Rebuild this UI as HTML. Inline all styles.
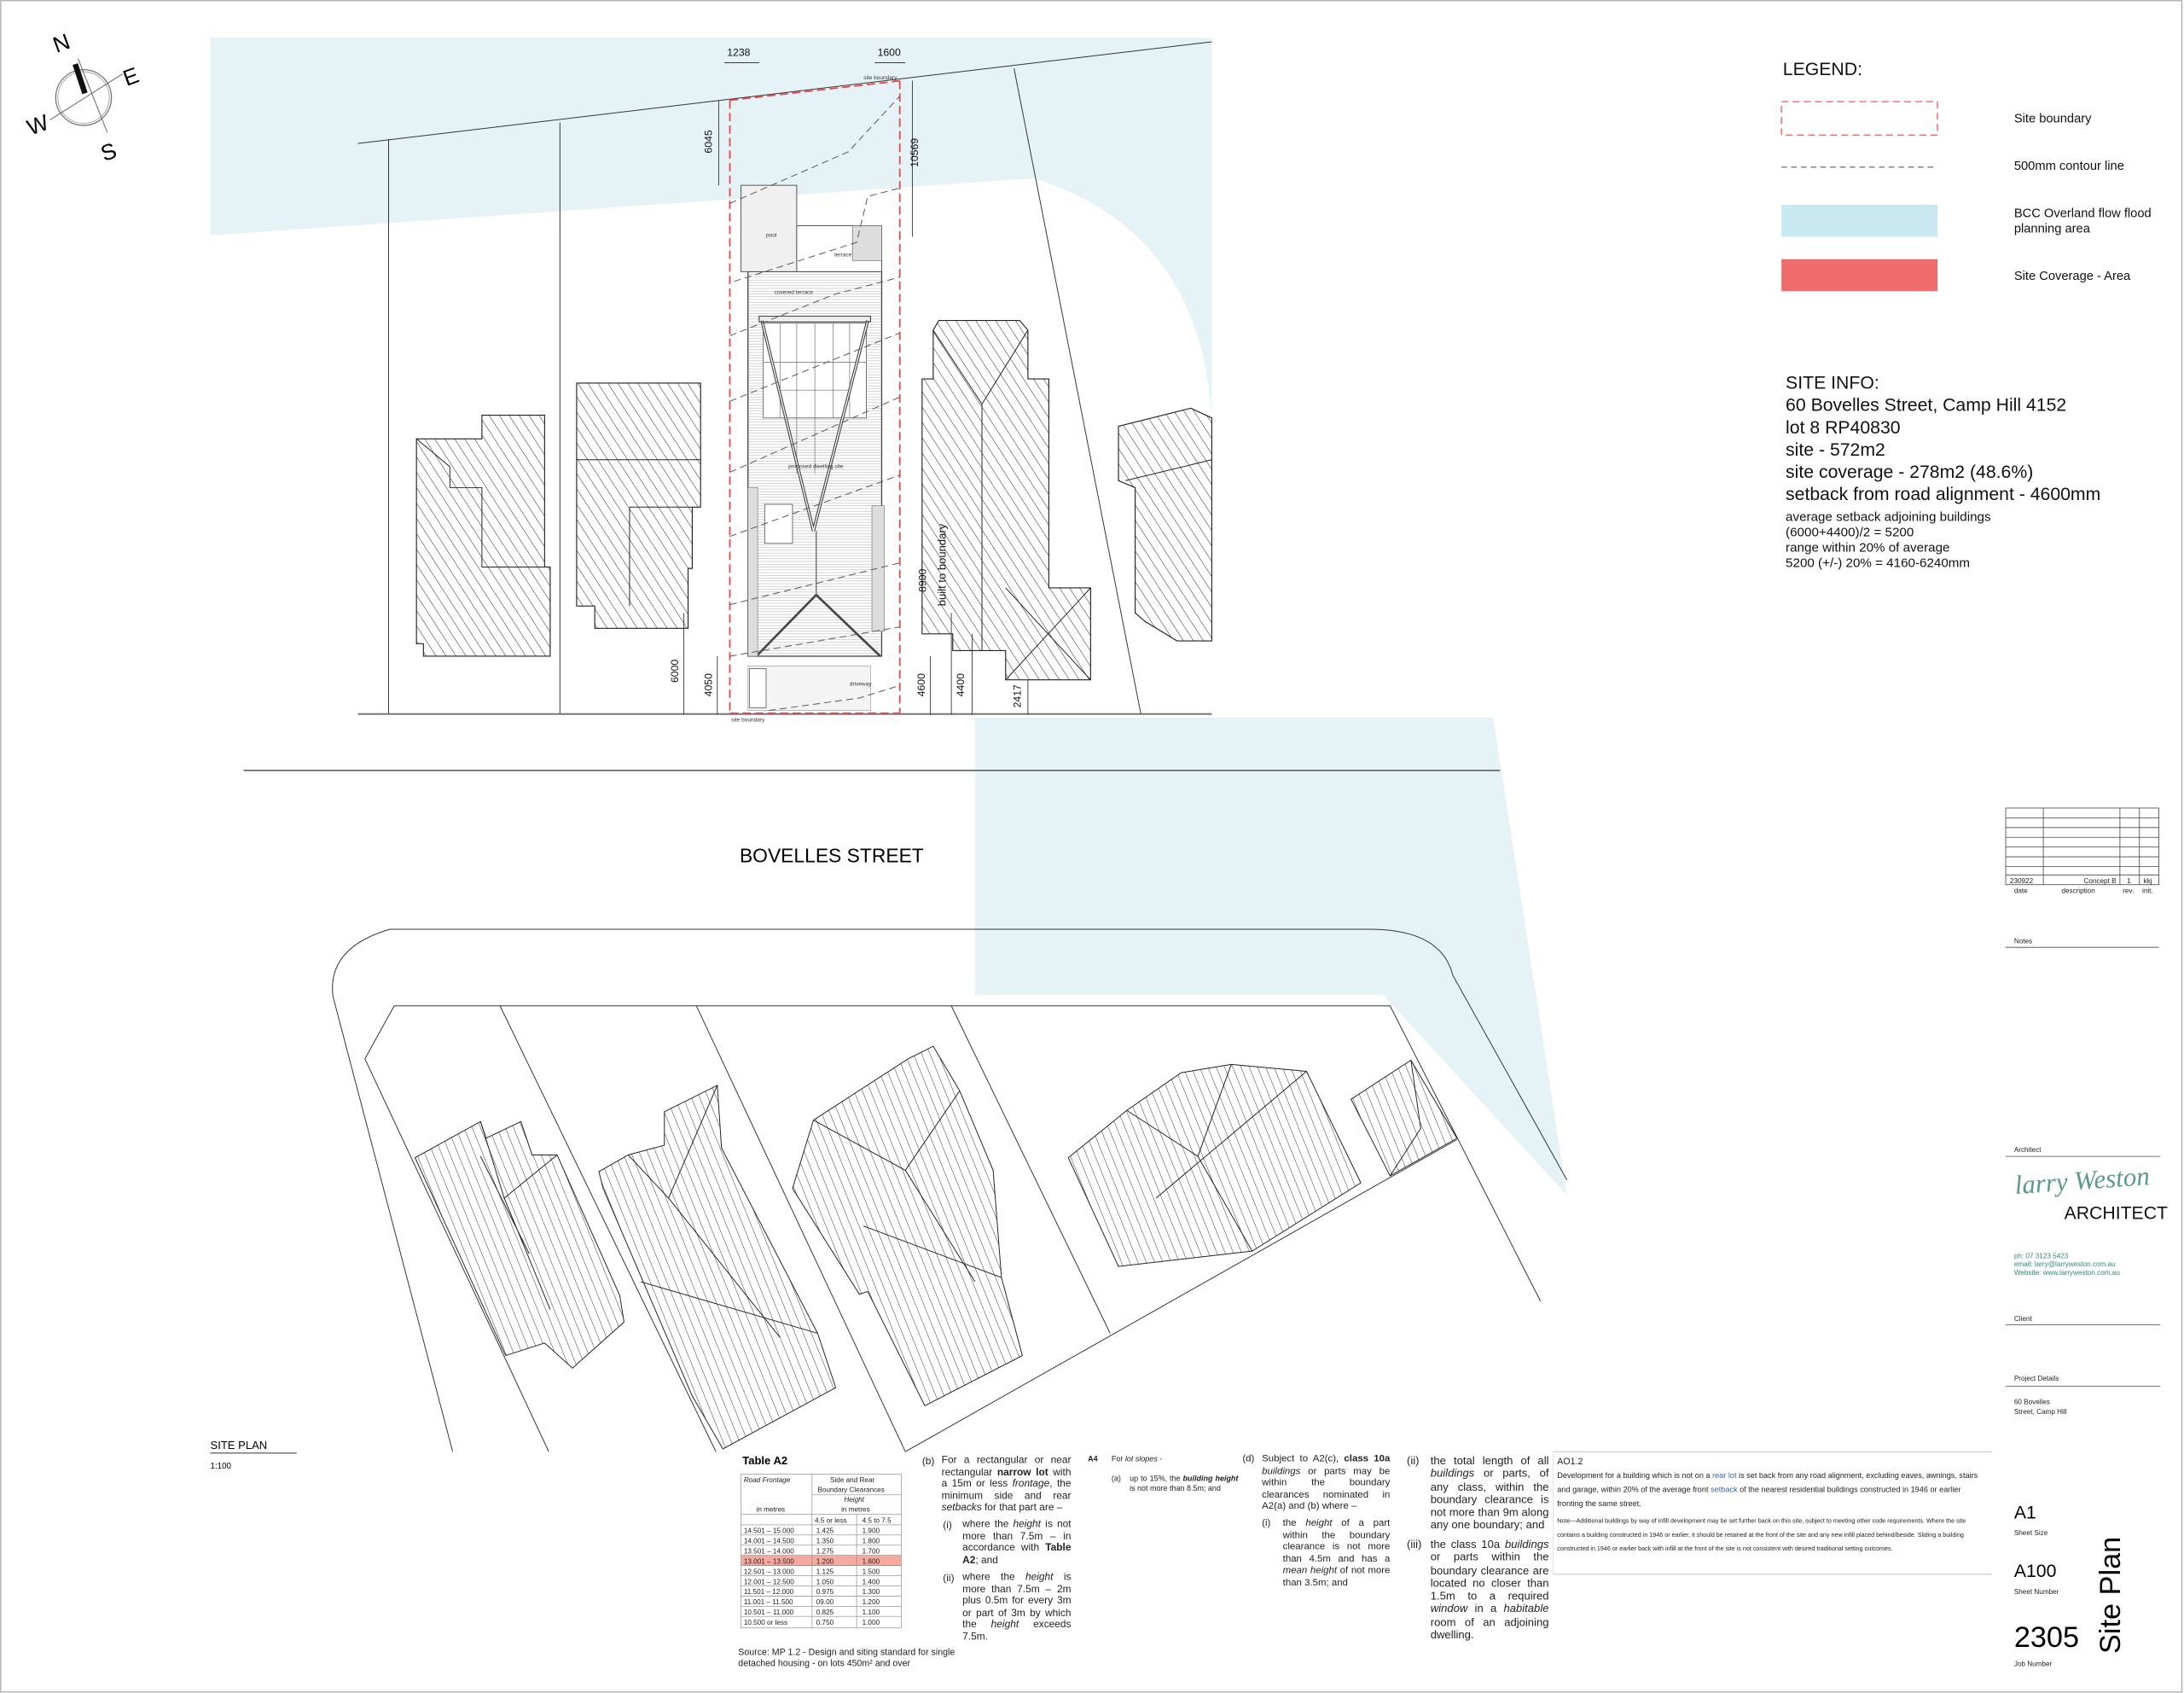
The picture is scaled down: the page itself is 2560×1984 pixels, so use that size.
<!DOCTYPE html>
<html><head><meta charset="utf-8">
<style>
html,body{margin:0;padding:0;background:#fff;}
body{width:2560px;height:1984px;overflow:hidden;position:relative;}
#root{position:absolute;left:0;top:0;width:1568px;height:1215px;transform:scale(1.632653);transform-origin:0 0;font-family:"Liberation Sans",sans-serif;color:#111;}
svg{position:absolute;left:0;top:0;}
.t{position:absolute;white-space:nowrap;}
.p{position:absolute;text-align:justify;font-family:"Liberation Sans Narrow","Liberation Sans",sans-serif;color:#222;}
.lab{position:absolute;font-size:5px;color:#333;}
</style></head><body><div id="root">
<svg width="1568" height="1215" viewBox="0 0 1568 1215">
<defs>
<pattern id="h" width="6" height="6" patternUnits="userSpaceOnUse" patternTransform="rotate(-33)"><line x1="0" y1="0" x2="0" y2="6" stroke="#222" stroke-width="0.6"/></pattern>
<pattern id="h2" width="5.5" height="5.5" patternUnits="userSpaceOnUse" patternTransform="rotate(-22)"><line x1="0" y1="0" x2="0" y2="5.5" stroke="#222" stroke-width="0.55"/></pattern>
<pattern id="dk" width="4" height="2" patternUnits="userSpaceOnUse"><line x1="0" y1="1" x2="4" y2="1" stroke="#bbb" stroke-width="0.4"/></pattern>
</defs>
<rect x="0.5" y="0.5" width="1566" height="1214" fill="none" stroke="#aaa" stroke-width="0.8"/>
<!-- flood areas -->
<path d="M151,27 L870,27 L870,300 C866,240 845,160 742,128 L151,169 Z" fill="#e6f3f6"/>
<path d="M700,517 Q695,515 700,515 L1072,515 L1125,858 L993,714 L700,714 Z" fill="#e6f3f6"/>
<!-- compass -->
<circle cx="60" cy="70" r="20" fill="none" stroke="#777" stroke-width="0.8"/>
<circle cx="60" cy="70" r="18.5" fill="none" stroke="#999" stroke-width="0.5"/>
<line x1="56" y1="42" x2="77" y2="95" stroke="#666" stroke-width="0.6"/>
<line x1="88" y1="53" x2="36" y2="86" stroke="#666" stroke-width="0.6"/>
<line x1="54" y1="46" x2="61" y2="67" stroke="#111" stroke-width="4"/>
<text x="38" y="36" font-size="16" transform="rotate(-20 45 30)">N</text>
<text x="88" y="60" font-size="16" transform="rotate(-20 95 53)">E</text>
<text x="19" y="95" font-size="16" transform="rotate(-20 27 88)">W</text>
<text x="72" y="114" font-size="16" transform="rotate(-20 79 107)">S</text>
<!-- top plan lines -->
<g stroke="#333" stroke-width="0.6" fill="none">
<line x1="257" y1="103" x2="870" y2="30"/>
<line x1="257" y1="512.5" x2="870" y2="512.5" stroke="#777" stroke-width="1.2"/>
<line x1="279" y1="100" x2="279" y2="512"/>
<line x1="402" y1="88" x2="402" y2="512"/>
<line x1="728" y1="49" x2="819" y2="512"/>
<line x1="175" y1="553" x2="1077" y2="553" stroke-width="0.8"/>
</g>
<!-- neighbour buildings top -->
<g fill="url(#h)" stroke="#222" stroke-width="0.7">
<path d="M299,315 L346,315 L346,298 L391,298 L391,407 L395,407 L395,471 L304,471 L304,462 L299,462 Z"/>
<path d="M414,275 L503,275 L503,364 L497,364 L497,408 L494,408 L494,451 L427,451 L427,435 L414,435 Z"/>
<path d="M662,272 L670,272 L670,237 L674,230 L732,230 L738,237 L738,272 L753,272 L753,422 L783,422 L783,488 L722,488 L722,467 L684,467 L684,455 L662,455 Z"/>
<path d="M803,306 L855,293 L870,300 L870,460 L845,460 L822,446 L815,440 L815,350 L803,345 Z"/>
</g>
<g stroke="#222" stroke-width="0.6" fill="none">
<path d="M299,315 L323,335 L323,350 L346,350 L346,407 L395,407"/>
<path d="M414,330 L503,330 M452,364 L497,364 M452,364 L452,435"/>
<path d="M670,237 L705,290 L738,237 M705,290 L705,467 M722,422 L783,488 M783,422 L722,488"/>
<path d="M808,345 L870,330"/>
</g>
<!-- dwelling -->
<rect x="537" y="195" width="96" height="276" fill="url(#dk)" stroke="#444" stroke-width="0.8"/>
<rect x="532" y="133" width="40" height="62" fill="#f0f0f0" stroke="#555" stroke-width="0.6"/>
<rect x="572" y="162" width="61" height="33" fill="#fff" stroke="#555" stroke-width="0.6"/>
<rect x="612" y="162" width="21" height="25" fill="#ddd" stroke="#666" stroke-width="0.4"/>
<rect x="548" y="232" width="74" height="68" fill="#fff" stroke="#555" stroke-width="0.5"/>
<g stroke="#666" stroke-width="0.4"><line x1="560" y1="232" x2="560" y2="300"/><line x1="572" y1="232" x2="572" y2="340"/><line x1="585" y1="232" x2="585" y2="340"/><line x1="598" y1="232" x2="598" y2="300"/><line x1="610" y1="232" x2="610" y2="300"/><line x1="548" y1="260" x2="622" y2="260"/><line x1="560" y1="280" x2="610" y2="280"/></g>
<path d="M547,230 L584,381 L623,230" fill="none" stroke="#444" stroke-width="2.2"/>
<path d="M547,230 L584,381 L623,230" fill="none" stroke="#fff" stroke-width="0.8"/>
<rect x="545" y="227" width="80" height="4" fill="none" stroke="#444" stroke-width="0.7"/>
<path d="M543,471 L586,427 L632,471" fill="none" stroke="#444" stroke-width="1.6"/>
<line x1="586" y1="381" x2="586" y2="427" stroke="#666" stroke-width="0.8"/>
<rect x="549" y="362" width="20" height="28" fill="#fff" stroke="#555" stroke-width="0.5"/>
<rect x="626" y="363" width="9" height="90" fill="#ddd" stroke="#777" stroke-width="0.4"/>
<rect x="537" y="350" width="7" height="121" fill="#ddd" stroke="#777" stroke-width="0.4"/>
<rect x="537" y="478" width="88" height="32" fill="#f4f4f4" stroke="#999" stroke-width="0.4"/>
<rect x="538" y="480" width="12" height="28" fill="#fff" stroke="#555" stroke-width="0.5"/>
<!-- site boundary red -->
<g stroke="#e8464c" stroke-width="1.1" stroke-dasharray="6,3" fill="none">
<line x1="524" y1="72" x2="524" y2="512"/>
<line x1="646" y1="58" x2="646" y2="512"/>
<line x1="524" y1="72" x2="646" y2="58"/>
<line x1="524" y1="512" x2="646" y2="512"/>
</g>
<!-- contours -->
<g stroke="#555" stroke-width="0.6" stroke-dasharray="5,3" fill="none">
<polyline points="524,146 609,109 646,69"/>
<polyline points="527,202 615,174 623,141 646,135"/>
<polyline points="524,241 600,211 646,199"/>
<polyline points="524,288 646,239"/>
<polyline points="524,339 646,285"/>
<polyline points="524,385 646,341"/>
<polyline points="524,434 646,404"/>
<polyline points="524,471 646,450"/>
<polyline points="552,510 617,501 646,492"/>
</g>
<!-- dimensions -->
<g stroke="#222" stroke-width="0.5">
<line x1="516" y1="72" x2="516" y2="133"/><line x1="655" y1="58" x2="655" y2="170"/>
<line x1="520" y1="45" x2="545" y2="45"/><line x1="628" y1="45" x2="650" y2="45"/>
<line x1="491" y1="440" x2="491" y2="513"/><line x1="515" y1="471" x2="515" y2="513"/>
<line x1="668" y1="471" x2="668" y2="513"/><line x1="683" y1="440" x2="683" y2="513"/>
<line x1="698" y1="455" x2="698" y2="513"/><line x1="738" y1="488" x2="738" y2="513"/>
</g>
<g font-size="7.5" fill="#111">
<text x="522" y="40">1238</text><text x="630" y="40">1600</text>
<text transform="translate(511,110) rotate(-90)">6045</text>
<text transform="translate(659,120) rotate(-90)">10569</text>
<text transform="translate(487,490) rotate(-90)">6000</text>
<text transform="translate(511,500) rotate(-90)">4050</text>
<text transform="translate(664,500) rotate(-90)">4600</text>
<text transform="translate(692,500) rotate(-90)">4400</text>
<text transform="translate(733,508) rotate(-90)">2417</text>
<text transform="translate(665,425) rotate(-90)">8900</text>
<text transform="translate(679,435) rotate(-90)" font-size="8">built to boundary</text>
</g>
<g font-size="4" fill="#333">
<text x="556" y="211">covered terrace</text><text x="566" y="336">proposed dwelling site</text>
<text x="550" y="170">pool</text><text x="599" y="184">terrace</text><text x="610" y="492">driveway</text>
<text x="525" y="518">site boundary</text><text x="620" y="57">site boundary</text>
</g>
<text x="531" y="619" font-size="14">BOVELLES STREET</text>
<!-- bottom streets -->
<g stroke="#333" stroke-width="0.6" fill="none">
<path d="M325,1042 L239,715 Q235,680 280,667 L986,667 Q1035,668 1043,700 L1125,847"/>
<path d="M394,1042 L262,760 L283,722 L998,722 L1106,934"/>
<line x1="359" y1="722" x2="514" y2="1042"/>
<line x1="500" y1="722" x2="650" y2="1042"/>
<line x1="683" y1="722" x2="797" y2="957"/>
<line x1="650" y1="1042" x2="1046" y2="818"/>
</g>
<g fill="url(#h2)" stroke="#222" stroke-width="0.6">
<path d="M298,831 L345,805 L349,817 L374,805 L382,829 L400,829 L445,930 L448,949 L411,982 L391,964 L363,973 L347,938 Z"/>
<path d="M430,841 L451,829 L477,822 L477,798 L515,779 L518,824 L587,957 L600,996 L519,1040 L497,1002 L433,853 Z"/>
<path d="M569,853 L584,804 L652,760 L670,751 L689,783 L713,840 L719,917 L734,973 L664,1009 L623,927 L617,929 Z"/>
<path d="M767,831 L809,797 L848,770 L884,764 L938,769 L977,849 L899,898 L803,909 Z"/>
<path d="M970,789 L1013,761 L1046,817 L998,844 Z"/>
</g>
<g stroke="#222" stroke-width="0.6" fill="none">
<path d="M345,805 L362,860 L400,829 M362,860 L395,940 M345,830 L380,900"/>
<path d="M451,829 L480,860 L515,779 M480,860 L560,960 M460,920 L587,957"/>
<path d="M584,804 L650,840 L689,783 M650,840 L700,920 M620,880 L719,917"/>
<path d="M809,797 L860,830 L884,764 M860,830 L899,898 M830,860 L938,769"/>
<path d="M1013,761 L1020,810 L998,844"/>
</g>
<!-- site plan label -->
<text x="151" y="1040" font-size="8">SITE PLAN</text>
<line x1="151" y1="1043" x2="213" y2="1043" stroke="#333" stroke-width="0.6"/>
<text x="151" y="1054" font-size="6">1:100</text>
<!-- table A2 -->
<text x="533" y="1051" font-size="8" font-weight="bold" font-family="Liberation Sans Narrow, Liberation Sans, sans-serif">Table A2</text>
<rect x="532" y="1094.5" width="115" height="7.3" fill="#f7a99f" transform="translate(0,21.9)"/>
<g stroke="#888" stroke-width="0.4" fill="none">
<rect x="532" y="1058" width="115" height="110.5"/>
<line x1="583" y1="1058" x2="583" y2="1168.5"/><line x1="615" y1="1087" x2="615" y2="1168.5"/>
<line x1="583" y1="1073" x2="647" y2="1073"/>
<line x1="532" y1="1087" x2="647" y2="1087"/>
<line x1="532" y1="1094.5" x2="647" y2="1094.5"/><line x1="532" y1="1101.8" x2="647" y2="1101.8"/><line x1="532" y1="1109.1" x2="647" y2="1109.1"/><line x1="532" y1="1116.4" x2="647" y2="1116.4"/><line x1="532" y1="1123.7" x2="647" y2="1123.7"/><line x1="532" y1="1131" x2="647" y2="1131"/><line x1="532" y1="1138.3" x2="647" y2="1138.3"/><line x1="532" y1="1145.6" x2="647" y2="1145.6"/><line x1="532" y1="1152.9" x2="647" y2="1152.9"/><line x1="532" y1="1160.2" x2="647" y2="1160.2"/>
</g>
<g font-size="5" fill="#222" font-family="Liberation Sans Narrow, Liberation Sans, sans-serif">
<text x="534" y="1064" font-style="italic">Road Frontage</text>
<text x="596" y="1064">Side and Rear</text><text x="587" y="1071">Boundary Clearances</text>
<text x="606" y="1078" font-style="italic">Height</text><text x="604" y="1085">in metres</text>
<text x="543" y="1085">in metres</text>
<text x="585" y="1093">4.5 or less</text><text x="619" y="1093">4.5 to 7.5</text>
<text x="534" y="1100.5">14.501 – 15.000</text><text x="586" y="1100.5">1.425</text><text x="619" y="1100.5">1.900</text>
<text x="534" y="1107.8">14.001 – 14.500</text><text x="586" y="1107.8">1.350</text><text x="619" y="1107.8">1.800</text>
<text x="534" y="1115.1">13.501 – 14.000</text><text x="586" y="1115.1">1.275</text><text x="619" y="1115.1">1.700</text>
<text x="534" y="1122.4">13.001 – 13.500</text><text x="586" y="1122.4">1.200</text><text x="619" y="1122.4">1.600</text>
<text x="534" y="1129.7">12.501 – 13.000</text><text x="586" y="1129.7">1.125</text><text x="619" y="1129.7">1.500</text>
<text x="534" y="1137">12.001 – 12.500</text><text x="586" y="1137">1.050</text><text x="619" y="1137">1.400</text>
<text x="534" y="1144.3">11.501 – 12.000</text><text x="586" y="1144.3">0.975</text><text x="619" y="1144.3">1.300</text>
<text x="534" y="1151.6">11.001 – 11.500</text><text x="586" y="1151.6">09.00</text><text x="619" y="1151.6">1.200</text>
<text x="534" y="1158.9">10.501 – 11.000</text><text x="586" y="1158.9">0.825</text><text x="619" y="1158.9">1.100</text>
<text x="534" y="1166.2">10.500 or less</text><text x="586" y="1166.2">0.750</text><text x="619" y="1166.2">1.000</text>
</g>
<g font-size="6.5" fill="#222" font-family="Liberation Sans Narrow, Liberation Sans, sans-serif">
<text x="530" y="1188">Source: MP 1.2 - Design and siting standard for single</text>
<text x="530" y="1196">detached housing - on lots 450m² and over</text>
</g>
<!-- AO1.2 box -->
<line x1="1115" y1="1042" x2="1430" y2="1042" stroke="#ccc" stroke-width="0.8"/>
<line x1="1115" y1="1130" x2="1430" y2="1130" stroke="#ccc" stroke-width="0.8"/>
<line x1="1115" y1="1042" x2="1115" y2="1130" stroke="#ddd" stroke-width="0.5"/>
<!-- legend -->
<rect x="1279" y="73" width="112" height="24" fill="none" stroke="#f06b6b" stroke-width="0.9" stroke-dasharray="5,3"/>
<line x1="1279" y1="120" x2="1391" y2="120" stroke="#444" stroke-width="0.6" stroke-dasharray="4,3"/>
<rect x="1279" y="147" width="112" height="23" fill="#c9e8f1"/>
<rect x="1279" y="186" width="112" height="23" fill="#f06b6b"/>
<!-- title block -->
<g stroke="#444" stroke-width="0.5" fill="none">
<rect x="1440" y="580" width="110" height="55"/>
<line x1="1440" y1="587" x2="1550" y2="587"/><line x1="1440" y1="594" x2="1550" y2="594"/><line x1="1440" y1="601" x2="1550" y2="601"/><line x1="1440" y1="608" x2="1550" y2="608"/><line x1="1440" y1="615" x2="1550" y2="615"/><line x1="1440" y1="622" x2="1550" y2="622"/><line x1="1440" y1="628" x2="1550" y2="628"/>
<line x1="1467" y1="580" x2="1467" y2="635"/><line x1="1522" y1="580" x2="1522" y2="635"/><line x1="1536" y1="580" x2="1536" y2="635"/>
<line x1="1440" y1="680" x2="1550" y2="680"/><line x1="1440" y1="830" x2="1551" y2="830"/><line x1="1440" y1="951" x2="1551" y2="951"/><line x1="1440" y1="995" x2="1551" y2="995"/>
</g>
<g font-size="5" fill="#222">
<text x="1443" y="634">230922</text><text x="1496" y="634">Concept B</text><text x="1527" y="634">1</text><text x="1539" y="634">kkj</text>
<text x="1446" y="641">date</text><text x="1480" y="641">description</text><text x="1524" y="641">rev.</text><text x="1538" y="641">init.</text>
<text x="1446" y="677">Notes</text><text x="1446" y="827">Architect</text><text x="1446" y="948">Client</text><text x="1446" y="991">Project Details</text>
<text x="1446" y="1008">60 Bovelles</text><text x="1446" y="1015">Street, Camp Hill</text>
<text x="1446" y="1102">Sheet Size</text><text x="1446" y="1144">Sheet Number</text><text x="1446" y="1196">Job Number</text>
</g>
<text x="1447" y="857" font-size="19" fill="#5a9a86" font-family="Liberation Serif, serif" font-style="italic" transform="rotate(-4 1447 857)">larry Weston</text>
<text x="1482" y="875" font-size="13" fill="#111">ARCHITECT</text>
<g font-size="5" fill="#2f8a70"><text x="1446" y="903">ph: 07 3123 5423</text><text x="1446" y="909">email: larry@larryweston.com.au</text><text x="1446" y="915">Website: www.larryweston.com.au</text></g>
<text x="1446" y="1090" font-size="13">A1</text>
<text x="1446" y="1132" font-size="13">A100</text>
<text x="1446" y="1182" font-size="21">2305</text>
<text transform="translate(1522,1187) rotate(-90)" font-size="21" font-family="Liberation Sans Narrow, Liberation Sans, sans-serif">Site Plan</text>
</svg>

<!-- legend text -->
<div class="t" style="left:1280px;top:42px;font-size:13px;">LEGEND:</div>
<div class="t" style="left:1446px;top:80px;font-size:9px;">Site boundary</div>
<div class="t" style="left:1446px;top:114px;font-size:9px;">500mm contour line</div>
<div class="t" style="left:1446px;top:148px;font-size:9px;line-height:11px;">BCC Overland flow flood<br>planning area</div>
<div class="t" style="left:1446px;top:193px;font-size:9px;">Site Coverage - Area</div>
<div class="t" style="left:1282px;top:267px;font-size:13px;line-height:16px;">SITE INFO:<br>60 Bovelles Street, Camp Hill 4152<br>lot 8 RP40830<br>site - 572m2<br>site coverage - 278m2 (48.6%)<br>setback from road alignment - 4600mm</div>
<div class="t" style="left:1282px;top:366px;font-size:9.3px;line-height:11px;">average setback adjoining buildings<br>(6000+4400)/2 = 5200<br>range within 20% of average<br>5200 (+/-) 20% = 4160-6240mm</div>

<!-- clause text -->
<div class="p" style="left:662px;top:1044px;font-size:7.3px;">(b)</div>
<div class="p" style="left:676px;top:1044px;width:93px;font-size:7.3px;line-height:8.6px;">For a rectangular or near rectangular <b>narrow lot</b> with a 15m or less <i>frontage</i>, the minimum side and rear <i>setbacks</i> for that part are –</div>
<div class="p" style="left:677px;top:1090px;font-size:7.3px;">(i)</div>
<div class="p" style="left:691px;top:1090px;width:78px;font-size:7.3px;line-height:8.6px;">where the <i>height</i> is not more than 7.5m – in accordance with <b>Table A2</b>; and</div>
<div class="p" style="left:677px;top:1128px;font-size:7.3px;">(ii)</div>
<div class="p" style="left:691px;top:1128px;width:78px;font-size:7.3px;line-height:8.6px;">where the <i>height</i> is more than 7.5m – 2m plus 0.5m for every 3m or part of 3m by which the <i>height</i> exceeds 7.5m.</div>
<div class="p" style="left:781px;top:1045px;font-size:5.5px;font-weight:bold;">A4</div>
<div class="p" style="left:798px;top:1045px;font-size:5.5px;">For <i>lot slopes</i> -</div>
<div class="p" style="left:798px;top:1059px;font-size:5.5px;">(a)</div>
<div class="p" style="left:811px;top:1059px;width:78px;font-size:5.5px;line-height:7px;">up to 15%, the <b><i>building height</i></b> is not more than 8.5m; and</div>
<div class="p" style="left:892px;top:1044px;font-size:7px;">(d)</div>
<div class="p" style="left:906px;top:1044px;width:92px;font-size:7px;line-height:8.5px;">Subject to A2(c), <b>class 10a</b> <i>buildings</i> or parts may be within the boundary clearances nominated in A2(a) and (b) where –</div>
<div class="p" style="left:906px;top:1090px;font-size:7px;">(i)</div>
<div class="p" style="left:921px;top:1090px;width:77px;font-size:7px;line-height:8.5px;">the <i>height</i> of a part within the boundary clearance is not more than 4.5m and has a <i>mean height</i> of not more than 3.5m; and</div>
<div class="p" style="left:1010px;top:1044px;font-size:8px;">(ii)</div>
<div class="p" style="left:1027px;top:1044px;width:85px;font-size:8px;line-height:9.3px;">the total length of all <i>buildings</i> or parts, of any class, within the boundary clearance is not more than 9m along any one boundary; and</div>
<div class="p" style="left:1010px;top:1104px;font-size:8px;">(iii)</div>
<div class="p" style="left:1027px;top:1104px;width:85px;font-size:8px;line-height:9.3px;">the class 10a <i>buildings</i> or parts within the boundary clearance are located no closer than 1.5m to a required <i>window</i> in a <i>habitable</i> room of an adjoining dwelling.</div>
<div class="p" style="left:1118px;top:1046px;font-size:6.5px;">AO1.2</div>
<div class="p" style="left:1118px;top:1055px;width:305px;font-size:5.6px;line-height:10px;text-align:left;">Development for a building which is not on a <span style="color:#3465a4">rear lot</span> is set back from any road alignment, excluding eaves, awnings, stairs and garage, within 20% of the average front <span style="color:#3465a4">setback</span> of the nearest residential buildings constructed in 1946 or earlier fronting the same street.</div>
<div class="p" style="left:1118px;top:1087px;width:305px;font-size:4.4px;line-height:10px;text-align:left;">Note—Additional buildings by way of infill development may be set further back on this site, subject to meeting other code requirements. Where the site contains a building constructed in 1946 or earlier, it should be retained at the front of the site and any new infill placed behind/beside. Sliding a building constructed in 1946 or earlier back with infill at the front of the site is not consistent with desired traditional setting outcomes.</div>
</div></body></html>
